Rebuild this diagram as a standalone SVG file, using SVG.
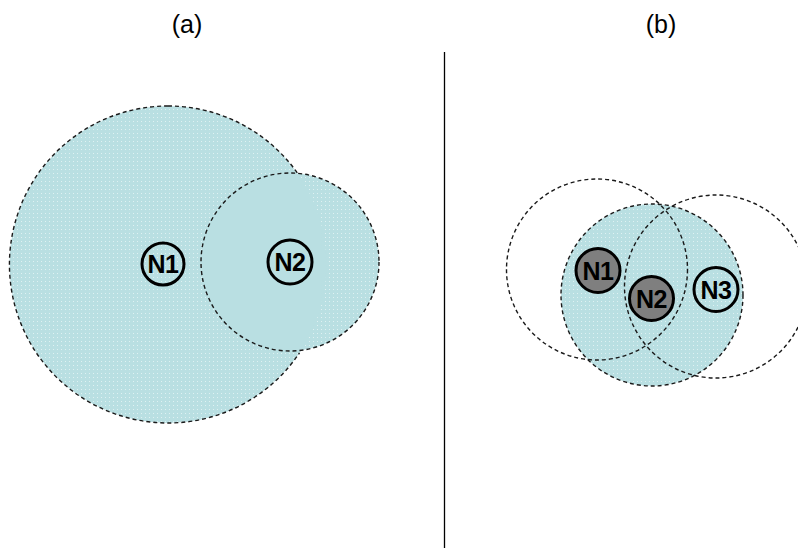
<svg xmlns="http://www.w3.org/2000/svg" width="798" height="548" viewBox="0 0 798 548">
  <defs>
    <!-- light cyan coverage fill with a fine white dot texture -->
    <pattern id="dots" width="4" height="4" patternUnits="userSpaceOnUse">
      <rect width="4" height="4" fill="#b9dfe2"/>
      <rect x="1" y="1" width="1" height="1" fill="#ffffff" opacity="0.55"/>
    </pattern>
    <clipPath id="bigA">
      <circle cx="168" cy="264.5" r="158.5"/>
    </clipPath>
  </defs>
  <style>
    .title { font-family: "Liberation Sans", Arial, sans-serif; font-size: 25px; fill: #000; }
    .range { fill: none; stroke: #1a1a1a; stroke-width: 1.4; stroke-dasharray: 4 3; }
    .node circle { stroke: #000; stroke-width: 3; }
    .node text { font-family: "Liberation Sans", Arial, sans-serif; font-weight: bold; font-size: 25px; fill: #000; text-anchor: middle; letter-spacing: -0.5px; }
    .hollow { fill: none; }
    .dark { fill: #7f7f7f; }
  </style>

  <rect width="798" height="548" fill="#ffffff"/>

  <text class="title" x="187" y="33" text-anchor="middle">(a)</text>
  <text class="title" x="661" y="33" text-anchor="middle">(b)</text>

  <!-- divider between the two panels -->
  <line x1="444.5" y1="52" x2="444.5" y2="548" stroke="#000" stroke-width="1.3"/>

  <!-- panel (a): transmission ranges -->
  <g id="rangesA">
    <circle cx="168" cy="264.5" r="158.5" fill="url(#dots)"/>
    <path d="M168 106 A158.5 158.5 0 1 0 299.5 352.9" class="range"/>
    <path d="M168 106 A158.5 158.5 0 0 1 299.5 176.1" class="range"/>
    <circle cx="290" cy="262" r="89" fill="url(#dots)"/>
    <circle cx="290" cy="262" r="89" fill="#b9dfe2" clip-path="url(#bigA)"/>
    <circle cx="290" cy="262" r="89" class="range"/>
  </g>

  <g id="a-N1" class="node">
    <circle class="hollow" cx="163" cy="264" r="21"/>
    <text x="163" y="273">N1</text>
  </g>
  <g id="a-N2" class="node">
    <circle class="hollow" cx="290" cy="262" r="22"/>
    <text x="290" y="271">N2</text>
  </g>

  <!-- panel (b): transmission ranges -->
  <g id="rangesB">
    <circle cx="652" cy="295" r="91" fill="url(#dots)"/>
    <circle cx="597" cy="269.5" r="90.5" class="range"/>
    <circle cx="716" cy="286.5" r="91.5" class="range"/>
    <circle cx="652" cy="295" r="91" class="range"/>
  </g>

  <g id="b-N1" class="node">
    <circle class="dark" cx="598" cy="270.5" r="22"/>
    <text x="598" y="279.5">N1</text>
  </g>
  <g id="b-N2" class="node">
    <circle class="dark" cx="651.5" cy="298.5" r="22"/>
    <text x="651.5" y="307.5">N2</text>
  </g>
  <g id="b-N3" class="node">
    <circle class="hollow" cx="716" cy="289.5" r="22"/>
    <text x="716" y="298.5">N3</text>
  </g>
</svg>
